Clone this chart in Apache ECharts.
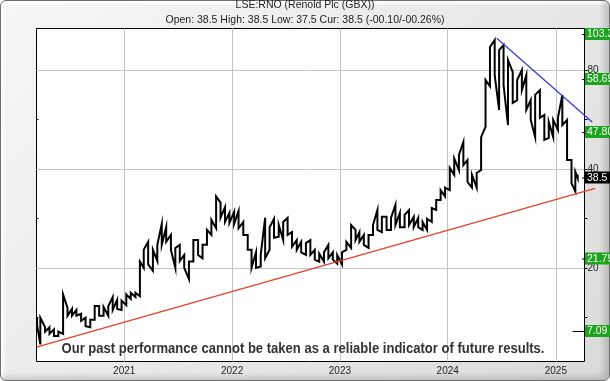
<!DOCTYPE html>
<html><head><meta charset="utf-8">
<script src="https://cdn.jsdelivr.net/npm/echarts@6/dist/echarts.min.js"></script>
<style>
html,body{margin:0;padding:0;}
body{width:610px;height:381px;overflow:hidden;position:relative;background:#fff;}
#frame{position:absolute;left:0;top:0;width:608px;height:379px;border:1px solid #6e6e6e;border-radius:6px;background:linear-gradient(135deg,#f6f6f6 0%,#e8e8e8 55%,#dadada 100%);box-shadow:inset -7px -5px 6px -2px rgba(0,0,0,0.16), inset 3px 3px 3px rgba(255,255,255,0.9);}
#chart{position:absolute;left:0;top:0;width:610px;height:381px;}
</style></head>
<body><div id="frame"></div><div id="chart"></div>
<script>
// semi-monthly bins: date, high, low
const dates = ['2020-03-12','2020-03-23','2020-04-08','2020-04-23','2020-05-08','2020-05-23','2020-06-08','2020-06-23','2020-07-08','2020-07-23','2020-08-08','2020-08-23','2020-09-08','2020-09-23','2020-10-08','2020-10-23','2020-11-08','2020-11-23','2020-12-08','2020-12-23',
'2021-01-08','2021-01-23','2021-02-08','2021-02-23','2021-03-08','2021-03-23','2021-04-08','2021-04-23','2021-05-08','2021-05-23','2021-06-08','2021-06-23','2021-07-08','2021-07-23','2021-08-08','2021-08-23','2021-09-08','2021-09-23','2021-10-08','2021-10-23','2021-11-08','2021-11-23','2021-12-08','2021-12-23',
'2022-01-08','2022-01-23','2022-02-08','2022-02-23','2022-03-08','2022-03-23','2022-04-08','2022-04-23','2022-05-08','2022-05-23','2022-06-08','2022-06-23','2022-07-08','2022-07-23','2022-08-08','2022-08-23','2022-09-08','2022-09-23','2022-10-08','2022-10-23','2022-11-08','2022-11-23','2022-12-08','2022-12-23',
'2023-01-08','2023-01-23','2023-02-08','2023-02-23','2023-03-08','2023-03-23','2023-04-08','2023-04-23','2023-05-08','2023-05-23','2023-06-08','2023-06-23','2023-07-08','2023-07-23','2023-08-08','2023-08-23','2023-09-08','2023-09-23','2023-10-08','2023-10-23','2023-11-08','2023-11-23','2023-12-08','2023-12-23',
'2024-01-08','2024-01-23','2024-02-08','2024-02-23','2024-03-08','2024-03-23','2024-04-08','2024-04-23','2024-05-08','2024-05-23','2024-06-08','2024-06-23','2024-07-08','2024-07-23','2024-08-08','2024-08-23','2024-09-08','2024-09-23','2024-10-08','2024-10-23','2024-11-08','2024-11-23','2024-12-08','2024-12-23',
'2025-01-08','2025-01-23','2025-02-08','2025-02-23','2025-03-08','2025-03-16'];
const highs = [14.1,14.1,13.2,13.2,13.0,12.8,16.6,15.1,15.0,14.9,14.5,14.1,13.9,15.3,15.3,15.2,15.3,16.3,16.0,15.9,
16.6,16.8,16.8,20.9,22.7,24.0,22.7,23.5,27.2,26.6,25.2,23.0,23.5,21.9,20.9,24.3,24.3,23.5,26.1,28.0,33.0,31.6,30.6,29.4,
29.6,29.8,27.6,25.2,22.7,22.3,21.9,28.4,26.6,28.2,27.0,27.6,28.4,25.7,24.3,24.0,23.8,24.3,22.7,22.1,22.3,23.5,22.3,21.9,
22.3,24.0,27.0,26.1,25.7,25.2,25.2,27.0,30.0,28.6,28.6,28.4,31.1,29.4,29.0,30.0,28.6,28.4,27.6,28.2,30.4,32.2,34.5,35.1,
40.3,43.1,44.1,48.3,42.6,38.4,38.9,50.0,74.6,94.0,98.7,92.0,95.3,85.8,78.9,74.6,80.0,77.2,64.8,67.2,69.5,58.4,55.6,56.4,
57.2,67.2,56.4,42.6,39.2,38.5];
const lows = [13.4,11.7,12.8,12.6,12.4,12.4,12.6,14.3,14.3,14.3,13.8,13.3,13.2,13.9,14.3,14.3,14.3,14.9,15.0,14.9,
15.4,16.1,16.3,16.4,20.0,20.5,19.6,21.0,23.5,24.0,22.7,20.0,21.0,20.0,18.5,20.9,21.9,21.4,23.5,25.2,26.4,28.4,27.6,27.4,
27.2,26.4,25.2,22.7,20.0,20.0,20.2,21.4,22.7,24.7,24.9,24.3,25.2,23.2,22.7,22.3,21.9,21.9,21.2,20.9,20.9,21.4,21.2,20.6,
20.5,22.7,23.0,24.3,24.0,23.5,23.0,25.2,26.1,25.7,26.1,26.1,27.0,26.6,26.6,27.0,26.6,26.6,26.1,26.1,27.6,30.0,32.2,33.0,
34.5,38.4,39.7,41.1,36.5,35.1,35.1,39.7,53.7,71.4,77.2,60.5,72.0,54.4,63.5,64.8,69.5,60.5,56.4,50.0,57.2,49.0,49.7,50.0,
52.6,54.4,42.6,36.2,34.2,37.5];
const yLabelValues = [20, 40, 80];
const yMinorValues = [14.14, 28.28, 56.57];
const yearTicks = ['2021-01-01','2022-01-01','2023-01-01','2024-01-01','2025-01-01'];
const redTrend = [['2020-03-10', 11.48], ['2025-05-14', 34.9]];
const blueTrend = [['2024-06-15', 99.9], ['2025-05-04', 55.6]];
const levelTexts = ['103.37','58.69','47.80','38.5','21.79','7.09'];
const titleText = 'LSE:RNO (Renold Plc (GBX))';
const subText = 'Open: 38.5 High: 38.5 Low: 37.5 Cur: 38.5 (-00.10/-00.26%)';
const disclaimer = 'Our past performance cannot be taken as a reliable indicator of future results.';

const FONT = '"Liberation Sans", Arial, sans-serif';
const T = (s) => Date.parse(s + 'T00:00:00Z');
const yMin = 10.38, yMax = 107.0;
const chart = echarts.init(document.getElementById('chart'), null, {renderer:'canvas'});

// each bin drawn as a vertical stroke low->high (or high->low), joined to the next bin
const priceLine = [];
dates.forEach((d, i) => {
  const t = T(d);
  const rising = i + 1 < dates.length ? (highs[i+1] + lows[i+1]) > (highs[i] + lows[i]) : true;
  if (rising) { priceLine.push([t, lows[i]], [t, highs[i]]); }
  else { priceLine.push([t, highs[i]], [t, lows[i]]); }
});

const boxTops = [28, 73, 126, 171.5, 252.5, 325];
const boxColors = ['#1ca41c','#1ca41c','#1ca41c','#000','#1ca41c','#1ca41c'];
const graphics = [];
levelTexts.forEach((t, i) => {
  const top = boxTops[i];
  graphics.push({type:'rect', shape:{x:585, y:top, width:30, height:12}, style:{fill:boxColors[i]}, z:100});
  graphics.push({type:'text', x:587, y:top+6.5, style:{text:t, fill:'#fff', fontSize:10.5, fontFamily:FONT, verticalAlign:'middle', align:'left'}, z:101});
  const x1 = i === 5 ? 572.5 : 582;
  graphics.push({type:'line', shape:{x1:x1, y1:top+6.5, x2:585, y2:top+6.5}, style:{stroke:'#000', lineWidth:1}, z:100});
});
graphics.push({type:'text', x:303, y:349, scaleX:0.87, style:{text:disclaimer, fill:'#333', fontSize:15, fontWeight:'bold', fontFamily:FONT, align:'center', verticalAlign:'middle'}, z:90});

chart.setOption({
  animation:false,
  backgroundColor:'transparent',
  title:{text:titleText, subtext:subText, left:'center', top:-1, itemGap:3, padding:0,
    textStyle:{fontSize:10.5, fontWeight:'normal', color:'#222', fontFamily:FONT, lineHeight:12},
    subtextStyle:{fontSize:10.5, color:'#222', fontFamily:FONT, lineHeight:12}},
  grid:{left:36.5, top:28.5, right:25.5, bottom:19.5, show:true, backgroundColor:'#fff', borderColor:'#000', borderWidth:1, containLabel:false, outerBoundsMode:'none'},
  xAxis:{type:'value', min:T('2020-03-10'), max:T('2025-04-08'),
    axisLine:{show:false},
    axisTick:{show:false, customValues:yearTicks.map(T)},
    axisLabel:{customValues:yearTicks.map(T), formatter:(v)=>String(new Date(v).getUTCFullYear()), fontSize:10, color:'#222', fontFamily:FONT, margin:5},
    splitLine:{show:true, lineStyle:{color:'#c4c4c4', width:1}}},
  yAxis:[
    {type:'log', logBase:2, position:'right', min:yMin, max:yMax,
      axisLine:{show:false},
      axisTick:{show:true, customValues:yLabelValues, length:3, lineStyle:{color:'#000'}},
      axisLabel:{show:true, customValues:yLabelValues, fontSize:10, color:'#222', fontFamily:FONT, margin:3},
      splitLine:{show:true, lineStyle:{color:'#c4c4c4', width:1}}},
    {type:'log', logBase:2, position:'right', min:yMin, max:yMax,
      axisLine:{show:false},
      axisTick:{show:true, customValues:yMinorValues, length:3, lineStyle:{color:'#000'}},
      axisLabel:{show:false}, splitLine:{show:false}},
    {type:'log', logBase:2, position:'left', min:yMin, max:yMax,
      axisLine:{show:false},
      axisTick:{show:true, inside:true, customValues:yMinorValues, length:2, lineStyle:{color:'#000'}},
      axisLabel:{show:false}, splitLine:{show:false}}
  ],
  series:[
    {type:'line', yAxisIndex:0, silent:true, data:priceLine, symbol:'none',
      lineStyle:{color:'#000', width:2, join:'miter'}, z:4}
  ],
  graphic: graphics
});

// trend lines extend past the plot edge: project their end points through the chart's own axes
const trendGraphics = [[redTrend, '#e4402c'], [blueTrend, '#3a3ccc']].map(([pts, color]) => {
  const a = chart.convertToPixel({xAxisIndex:0, yAxisIndex:0}, [T(pts[0][0]), pts[0][1]]);
  const b = chart.convertToPixel({xAxisIndex:0, yAxisIndex:0}, [T(pts[1][0]), pts[1][1]]);
  return {type:'line', shape:{x1:a[0], y1:a[1], x2:b[0], y2:b[1]}, style:{stroke:color, lineWidth:1.3}, z:50};
});
chart.setOption({graphic: graphics.concat(trendGraphics)});
</script>
</body></html>
